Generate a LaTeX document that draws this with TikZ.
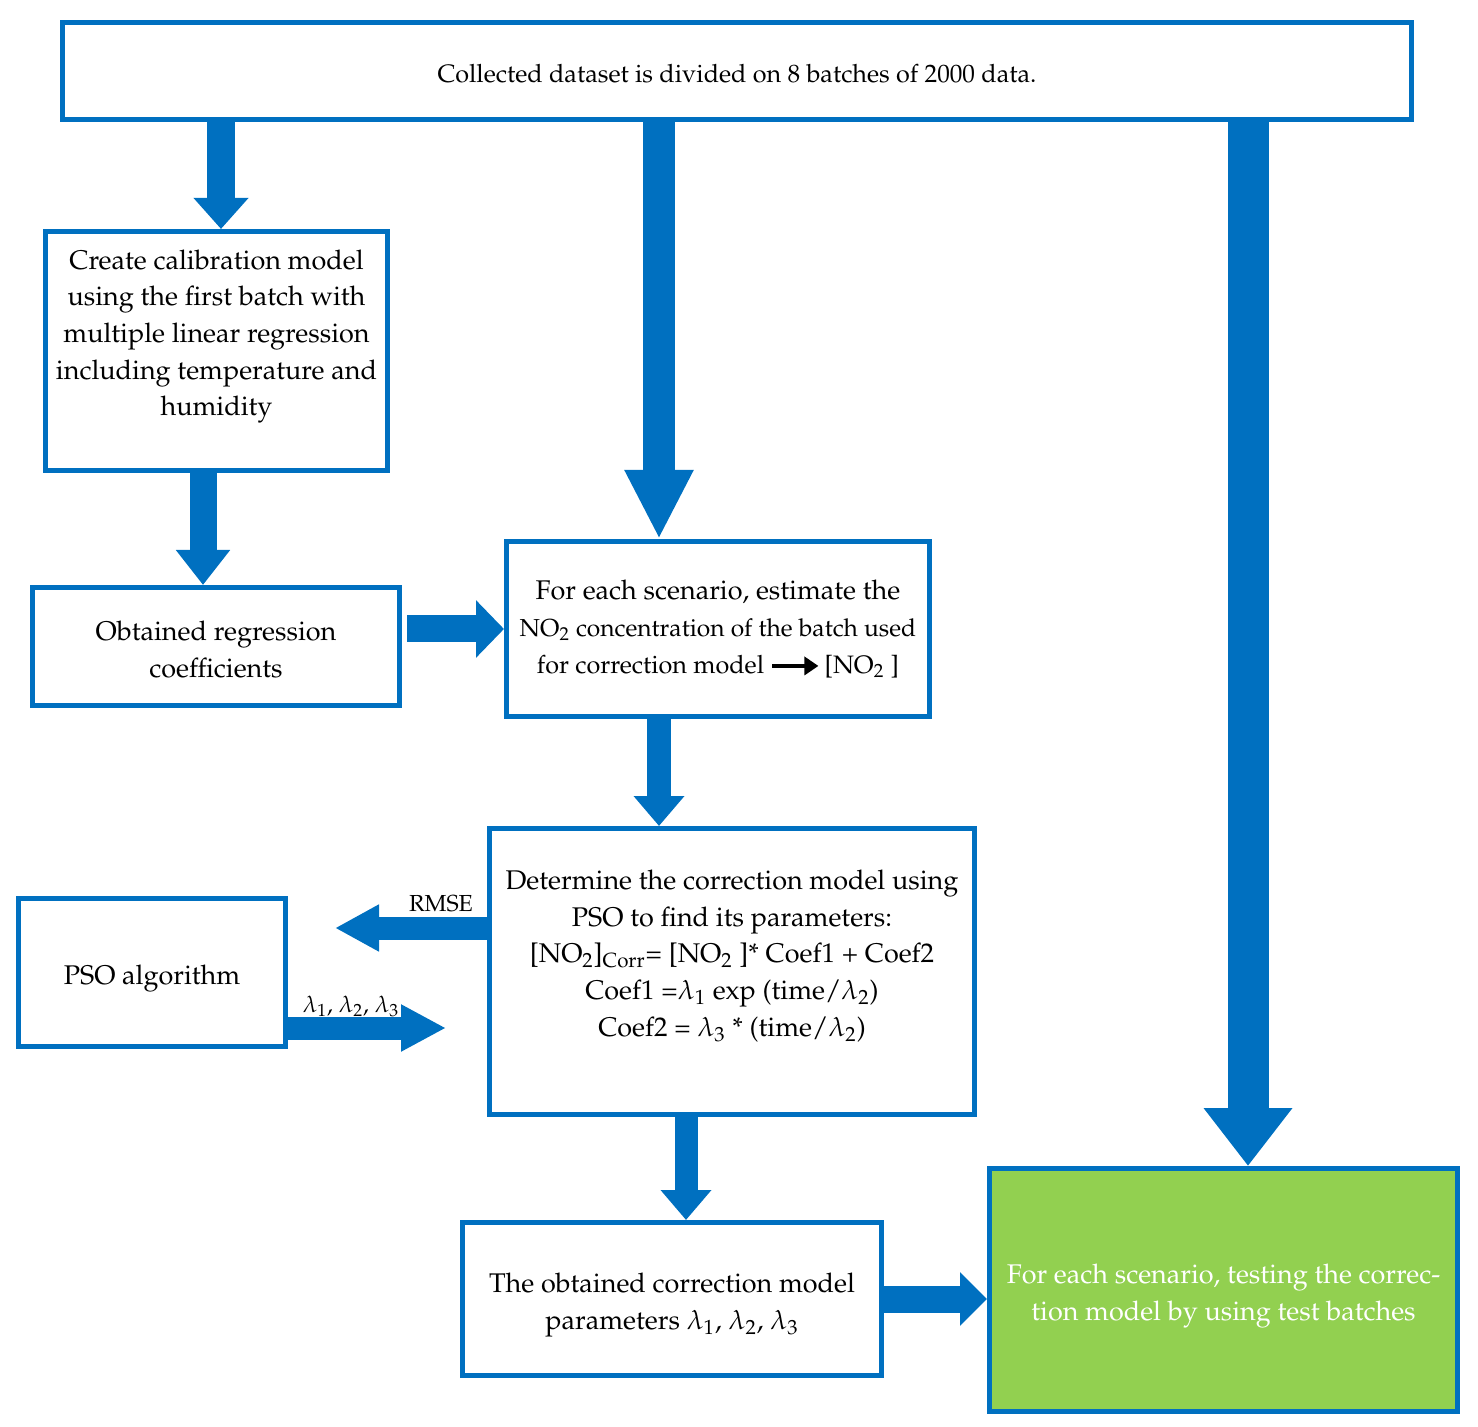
\documentclass[tikz,border=0pt]{standalone}
\usepackage[T1]{fontenc}
\usepackage{mathpazo}
\usepackage{tikz}
\usetikzlibrary{positioning, arrows.meta, calc}
\definecolor{boxblue}{HTML}{0070C0}
\definecolor{testgreen}{HTML}{92D050}
\tikzstyle{step box} = [rectangle, draw=boxblue, line width=2.5pt, fill=white, inner sep=0pt, align=center, text centered]
\tikzstyle{test box} = [step box, fill=testgreen, text=white]
\tikzstyle{flow} = [draw=boxblue, line cap=butt]
\tikzstyle{lbl} = [inner sep=0pt, font=\fontsize{11.6}{15}\selectfont]
\newcommand{\txtfont}{\fontsize{13.5}{18.3}\selectfont}
\newcommand{\lowr}[1]{\rule{0pt}{#1}}

\begin{document}
\begin{tikzpicture}[x=0.5pt, y=-0.5pt, font=\txtfont]
\useasboundingbox (0,0) rectangle (1478,1427);

\node (data) [step box, minimum width=674.5pt, minimum height=48.5pt, font=\fontsize{12.6}{18.3}\selectfont] at (737,71) {\lowr{12pt}Collected dataset is divided on 8 batches of 2000 data.};

\node (calib) [step box, minimum width=171pt, minimum height=119.5pt] at (216.5,351) {Create calibration model\\ using the first batch with\\ multiple linear regression\\ including temperature and\\ humidity\\ \mbox{}};
\node (coeff) [step box, minimum width=183.5pt, minimum height=59pt] at (216,646.5) {\lowr{13pt}Obtained regression\\ coefficients};

\node (estim) [step box, minimum width=211.5pt, minimum height=87.5pt] at (718,629) {For each scenario, estimate the\\ {\fontsize{12.3}{18.3}\selectfont NO\textsubscript{2} concentration of the batch used}\\ {\fontsize{12.6}{18.3}\selectfont for correction model \tikz[baseline=-0.6ex]\draw[line width=2pt, -{Triangle[width=9pt,length=7pt]}] (0pt,0pt) -- (23pt,0pt);\,[NO\textsubscript{2} ]}};

\node (corrm) [step box, minimum width=242.5pt, minimum height=143pt] at (732,971.5) {Determine the correction model using\\ PSO to find its parameters:\\ {[}NO\textsubscript{2}]\textsubscript{Corr}= [NO\textsubscript{2} ]* Coef1 + Coef2\\ Coef1 =$\lambda$\textsubscript{1} exp (time/$\lambda$\textsubscript{2})\\ Coef2 = $\lambda$\textsubscript{3} * (time/$\lambda$\textsubscript{2})\\ \mbox{}};
\node (pso) [step box, minimum width=133.5pt, minimum height=74pt] at (152,972.5) {\lowr{16pt}PSO algorithm};

\node (params) [step box, minimum width=209.5pt, minimum height=76.5pt] at (672,1299) {\lowr{16pt}The obtained correction model\\ parameters $\lambda$\textsubscript{1}, $\lambda$\textsubscript{2}, $\lambda$\textsubscript{3}};
\node (test) [test box, minimum width=234pt, minimum height=121.5pt] at (1223.5,1290) {\lowr{16pt}For each scenario, testing the correc-\\ tion model by using test batches};

\coordinate (c1) at ([xshift=2.25pt]calib.north);
\coordinate (c2) at ([xshift=-29.5pt]estim.north);
\coordinate (c3) at ([xshift=12.25pt]test.north);
\coordinate (c4) at ([xshift=-6.75pt]calib.south);
\coordinate (c6) at ([xshift=-29.5pt]estim.south);
\coordinate (c9) at ([xshift=-23pt]corrm.south);
\coordinate (rmse) at ([yshift=21.75pt]corrm.west);
\coordinate (lam) at ([yshift=-27.75pt]pso.east);

\draw [flow, line width=14pt, -{Triangle[width=26.5pt,length=15.5pt]}] (c1 |- data.south) -- (c1);
\draw [flow, line width=16pt, -{Triangle[width=32pt,length=34.5pt]}] (c2 |- data.south) -- (c2);
\draw [flow, line width=20.5pt, -{Triangle[width=42.5pt,length=29pt]}] (c3 |- data.south) -- (c3);
\draw [flow, line width=13.5pt, -{Triangle[width=26pt,length=17.5pt]}] (c4) -- (c4 |- coeff.north);
\draw [flow, line width=13.5pt, -{Triangle[width=28pt,length=14pt]}, shorten <=2.5pt] (coeff.east |- estim.west) -- (estim.west);
\draw [flow, line width=12pt, -{Triangle[width=24.5pt,length=15pt]}] (c6) -- (c6 |- corrm.north);
\draw [flow, line width=11.5pt, -{Triangle[width=22pt,length=22pt]}, shorten >=23.5pt] (rmse) -- (rmse -| pso.east);
\draw [flow, line width=11.5pt, -{Triangle[width=22pt,length=22.5pt]}, shorten >=20.5pt] (lam) -- (lam -| corrm.west);
\draw [flow, line width=11.5pt, -{Triangle[width=24.5pt,length=15pt]}] (c9) -- (c9 |- params.north);
\draw [flow, line width=13.5pt, -{Triangle[width=26pt,length=13.5pt]}] (params.east) -- (params.east -| test.west);

\node (rmselbl) [lbl, anchor=base] at ($(rmse)+(-23pt,8.5pt)$) {RMSE};
\node (lamlbl) [lbl, anchor=base] at ($(lam)+(31.5pt,8pt)$) {$\lambda$\textsubscript{1}, $\lambda$\textsubscript{2}, $\lambda$\textsubscript{3}};

\end{tikzpicture}
\end{document}
